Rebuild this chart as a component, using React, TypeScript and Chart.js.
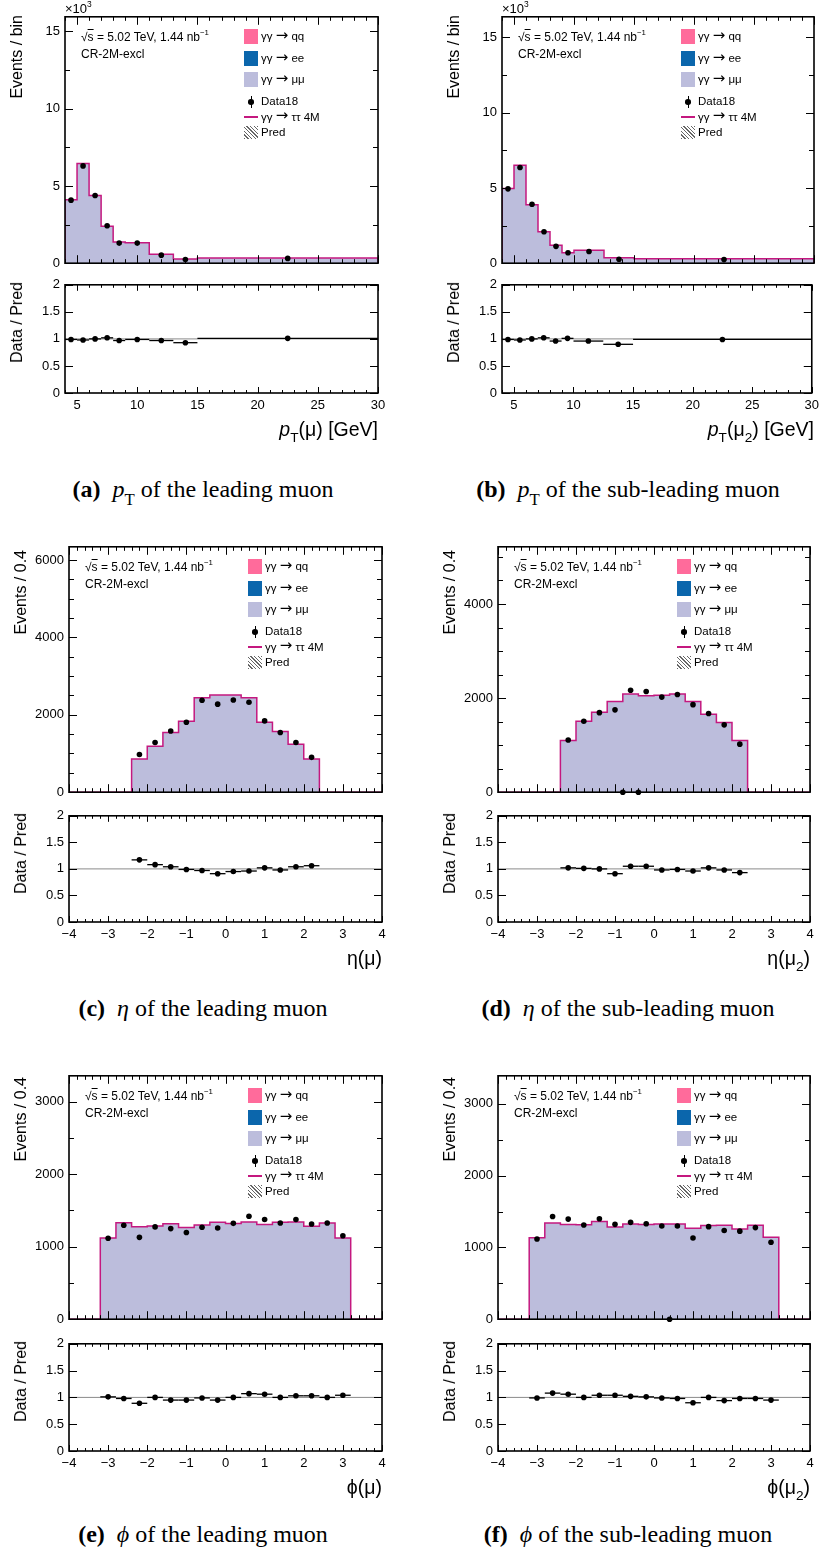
import React, { useEffect, useRef } from "react";
import { Chart, registerables } from "chart.js";

Chart.register(...registerables);

const SANS = "'Liberation Sans', Arial, Helvetica, sans-serif";
const SERIF = "'Liberation Serif', 'Times New Roman', serif";

const COLOR_QQ = "#ff6b9b";
const COLOR_EE = "#0b66ac";
const COLOR_MUMU = "#bcbddc";
const COLOR_TAUTAU = "#c4187f";
const COLOR_UNITY = "#8a8a8a";

// Leading-muon pT: events per bin, in units of 10^3
const ptLeadEdges = [4, 5, 6, 7, 8, 9, 11, 13, 15, 30];
const ptLeadMuMu = [4.1, 6.45, 4.38, 2.39, 1.37, 1.32, 0.58, 0.27, 0.33];
const ptLeadData = [4.08, 6.3, 4.38, 2.42, 1.3, 1.3, 0.52, 0.24, 0.31];
const ptLeadRatio = [0.99, 0.98, 1.0, 1.02, 0.97, 0.99, 0.97, 0.93, 1.01];

// Sub-leading-muon pT: events per bin, in units of 10^3
const ptSubEdges = [4, 5, 6, 7, 8, 9, 10, 12.5, 15, 30];
const ptSubMuMu = [4.96, 6.51, 3.88, 2.09, 1.19, 0.69, 0.86, 0.37, 0.3];
const ptSubData = [4.94, 6.36, 3.92, 2.09, 1.12, 0.69, 0.78, 0.26, 0.24];
const ptSubRatio = [0.99, 0.98, 1.0, 1.02, 0.96, 1.01, 0.96, 0.9, 0.99];

// Pseudorapidity, 0.4-wide bins
const etaEdges = [-2.4, -2.0, -1.6, -1.2, -0.8, -0.4, 0, 0.4, 0.8, 1.2, 1.6, 2.0, 2.4];
const etaLeadMuMu = [860, 1190, 1540, 1830, 2440, 2510, 2510, 2440, 1810, 1570, 1240, 860];
const etaLeadData = [975, 1283, 1583, 1808, 2375, 2275, 2383, 2325, 1842, 1542, 1283, 900];
const etaLeadRatio = [1.17, 1.08, 1.04, 0.99, 0.97, 0.91, 0.95, 0.96, 1.02, 0.98, 1.04, 1.06];

const etaSubMuMu = [1100, 1510, 1700, 1925, 2085, 2050, 2060, 2085, 1930, 1655, 1480, 1100];
const etaSubData = [1110, 1507, 1690, 1750, 2167, 2139, 2021, 2076, 1861, 1674, 1431, 1021];
const etaSubRatio = [1.02, 1.01, 1.0, 0.91, 1.05, 1.05, 0.98, 0.99, 0.96, 1.02, 0.98, 0.93];
const etaSubEmptyX = [-0.8, -0.4];

// Azimuth, 0.4-wide bins
const phiEdges = [-3.2, -2.8, -2.4, -2.0, -1.6, -1.2, -0.8, -0.4, 0, 0.4, 0.8, 1.2, 1.6, 2.0, 2.4, 2.8, 3.2];
const phiLeadMuMu = [1120, 1330, 1275, 1285, 1315, 1265, 1300, 1335, 1320, 1340, 1305, 1335, 1340, 1280, 1325, 1120];
const phiLeadData = [1115, 1294, 1128, 1272, 1249, 1196, 1267, 1258, 1321, 1420, 1375, 1326, 1375, 1312, 1326, 1151];
const phiLeadRatio = [1.01, 0.98, 0.89, 1.0, 0.95, 0.95, 0.99, 0.95, 1.0, 1.07, 1.06, 1.0, 1.03, 1.03, 1.0, 1.04];

const phiSubMuMu = [1135, 1340, 1320, 1315, 1360, 1285, 1325, 1320, 1325, 1325, 1265, 1305, 1310, 1255, 1310, 1140];
const phiSubData = [1116, 1431, 1394, 1312, 1399, 1321, 1349, 1330, 1298, 1298, 1130, 1289, 1235, 1226, 1276, 1071];
const phiSubRatio = [0.99, 1.08, 1.06, 1.0, 1.04, 1.04, 1.02, 1.01, 0.99, 0.98, 0.9, 1.0, 0.94, 0.98, 0.98, 0.95];
const phiSubEmptyX = [0.4];

// Axis tick labels
const ptYTicks = [0, 5, 10, 15];
const ptXTicks = [5, 10, 15, 20, 25, 30];
const etaLeadYTicks = [0, 2000, 4000, 6000];
const etaSubYTicks = [0, 2000, 4000];
const phiYTicks = [0, 1000, 2000, 3000];
const angleXTicks = [-4, -3, -2, -1, 0, 1, 2, 3, 4];
const ratioYTicks = [0, 0.5, 1, 1.5, 2];

const ROWS = [
  { mainT: 14, mainB: 266, ratT: 282, ratB: 393, yTitleTop: 15, capBase: 498 },
  { mainT: 544, mainB: 795, ratT: 813, ratB: 922, yTitleTop: 550, capBase: 1017 },
  { mainT: 1073, mainB: 1322, ratT: 1341, ratB: 1451, yTitleTop: 1077, capBase: 1543 },
];

const PAD_TOP = 10;
const MAIN_BOTTOM = 10;
const RATIO_BOTTOM = 28;

const Sub = ({ children }: any) => (
  <span style={{ position: "relative", top: "0.45em", fontSize: "0.7em" }}>{children}</span>
);
const Sup = ({ children }: any) => (
  <span style={{ position: "relative", top: "-0.7em", fontSize: "0.65em" }}>{children}</span>
);
const Arrow = () => (
  <span style={{ fontFamily: "'DejaVu Sans', sans-serif", fontSize: "1.3em", lineHeight: 0, position: "relative", top: "-0.03em" }}>
    →
  </span>
);

const PANELS: any[] = [
  {
    key: "a", row: 0, col: 0, frameL: 65, frameR: 378,
    edges: ptLeadEdges, mumu: ptLeadMuMu, data: ptLeadData, ratio: ptLeadRatio, empty: [],
    xMin: 4, xMax: 30, yMax: 15.95, yTicks: ptYTicks, yMinor: 2.5, xTicks: ptXTicks, xMinor: 1,
    thousands: true, yTitle: "Events / bin",
    xTitle: <><i>p</i><Sub>T</Sub>(μ) [GeV]</>,
    caption: <><b>(a)</b>{"\u2002"}<i>p</i><Sub>T</Sub> of the leading muon</>,
  },
  {
    key: "b", row: 0, col: 1, frameL: 502, frameR: 814,
    edges: ptSubEdges, mumu: ptSubMuMu, data: ptSubData, ratio: ptSubRatio, empty: [],
    xMin: 4, xMax: 30, yMax: 16.37, yTicks: ptYTicks, yMinor: 2.5, xTicks: ptXTicks, xMinor: 1,
    thousands: true, yTitle: "Events / bin",
    xTitle: <><i>p</i><Sub>T</Sub>(μ<Sub>2</Sub>) [GeV]</>,
    caption: <><b>(b)</b>{"\u2002"}<i>p</i><Sub>T</Sub> of the sub-leading muon</>,
  },
  {
    key: "c", row: 1, col: 0, frameL: 69, frameR: 382,
    edges: etaEdges, mumu: etaLeadMuMu, data: etaLeadData, ratio: etaLeadRatio, empty: [],
    xMin: -4, xMax: 4, yMax: 6340, yTicks: etaLeadYTicks, yMinor: 500, xTicks: angleXTicks, xMinor: 0.2,
    thousands: false, yTitle: "Events / 0.4",
    xTitle: <>η(μ)</>,
    caption: <><b>(c)</b>{"\u2002"}<i>η</i> of the leading muon</>,
  },
  {
    key: "d", row: 1, col: 1, frameL: 498, frameR: 810,
    edges: etaEdges, mumu: etaSubMuMu, data: etaSubData, ratio: etaSubRatio, empty: etaSubEmptyX,
    xMin: -4, xMax: 4, yMax: 5215, yTicks: etaSubYTicks, yMinor: 500, xTicks: angleXTicks, xMinor: 0.2,
    thousands: false, yTitle: "Events / 0.4",
    xTitle: <>η(μ<Sub>2</Sub>)</>,
    caption: <><b>(d)</b>{"\u2002"}<i>η</i> of the sub-leading muon</>,
  },
  {
    key: "e", row: 2, col: 0, frameL: 69, frameR: 382,
    edges: phiEdges, mumu: phiLeadMuMu, data: phiLeadData, ratio: phiLeadRatio, empty: [],
    xMin: -4, xMax: 4, yMax: 3355, yTicks: phiYTicks, yMinor: 500, xTicks: angleXTicks, xMinor: 0.2,
    thousands: false, yTitle: "Events / 0.4",
    xTitle: <>ϕ(μ)</>,
    caption: <><b>(e)</b>{"\u2002"}<i>ϕ</i> of the leading muon</>,
  },
  {
    key: "f", row: 2, col: 1, frameL: 498, frameR: 810,
    edges: phiEdges, mumu: phiSubMuMu, data: phiSubData, ratio: phiSubRatio, empty: phiSubEmptyX,
    xMin: -4, xMax: 4, yMax: 3390, yTicks: phiYTicks, yMinor: 500, xTicks: angleXTicks, xMinor: 0.2,
    thousands: false, yTitle: "Events / 0.4",
    xTitle: <>ϕ(μ<Sub>2</Sub>)</>,
    caption: <><b>(f)</b>{"\u2002"}<i>ϕ</i> of the sub-leading muon</>,
  },
];

function fmtTick(v: number) {
  return v < 0 ? "\u2212" + String(Math.abs(v)) : String(v);
}

function tickList(min: number, max: number, step: number) {
  const out: number[] = [];
  const start = Math.ceil(min / step - 1e-9);
  for (let k = start; k * step <= max + 1e-9; k++) out.push(+(k * step).toFixed(6));
  return out;
}

const isMajor = (v: number, majors: number[]) => majors.some((m) => Math.abs(m - v) < 1e-6);

// Histogram outline as step points along bin edges, dropping to zero outside the binned range
function stepPoints(edges: number[], vals: number[], xMin: number, xMax: number) {
  const pts = [{ x: xMin, y: 0 }];
  vals.forEach((v, i) => pts.push({ x: edges[i], y: v }));
  pts.push({ x: edges[edges.length - 1], y: 0 });
  pts.push({ x: xMax, y: 0 });
  return pts;
}

const centers = (edges: number[]) => edges.slice(0, -1).map((e, i) => (e + edges[i + 1]) / 2);

// Frame with inward ticks on all four sides, plus horizontal bin-width bars for ratio points
const framePlugin = {
  id: "rootFrame",
  afterDatasetsDraw(chart: any, _a: any, o: any) {
    if (!o || !o.bars) return;
    const { ctx } = chart;
    const xs = chart.scales.x;
    const ys = chart.scales.y;
    ctx.save();
    ctx.strokeStyle = "#000";
    ctx.lineWidth = 1.3;
    const { edges, vals } = o.bars;
    vals.forEach((v: number, i: number) => {
      const y = ys.getPixelForValue(v);
      ctx.beginPath();
      ctx.moveTo(xs.getPixelForValue(edges[i]), y);
      ctx.lineTo(xs.getPixelForValue(edges[i + 1]), y);
      ctx.stroke();
    });
    ctx.restore();
  },
  afterDraw(chart: any, _a: any, o: any) {
    const { ctx, chartArea: a } = chart;
    const xs = chart.scales.x;
    const ys = chart.scales.y;
    ctx.save();
    ctx.strokeStyle = "#000";
    ctx.lineWidth = 1;
    const seg = (x1: number, y1: number, x2: number, y2: number) => {
      ctx.beginPath();
      ctx.moveTo(x1, y1);
      ctx.lineTo(x2, y2);
      ctx.stroke();
    };
    for (const v of tickList(xs.min, xs.max, o.xMinor)) {
      const len = isMajor(v, o.xMajor) ? o.xLen[0] : o.xLen[1];
      const px = Math.round(xs.getPixelForValue(v)) + 0.5;
      seg(px, a.bottom, px, a.bottom - len);
      seg(px, a.top, px, a.top + len);
    }
    for (const v of tickList(ys.min, ys.max, o.yMinor)) {
      const len = isMajor(v, o.yMajor) ? o.yLen[0] : o.yLen[1];
      const py = Math.round(ys.getPixelForValue(v)) + 0.5;
      seg(a.left, py, a.left + len, py);
      seg(a.right, py, a.right - len, py);
    }
    ctx.lineWidth = 1.6;
    ctx.strokeRect(a.left, a.top, a.right - a.left, a.bottom - a.top);
    ctx.restore();
  },
};

function baseOptions(p: any, yMin: number, yMax: number, yTicks: number[], bottom: number, showX: boolean, frame: any) {
  const colX = p.col * 412;
  return {
    responsive: false,
    maintainAspectRatio: false,
    animation: false,
    devicePixelRatio: 1,
    events: [],
    layout: { padding: { left: 0, top: PAD_TOP, right: colX + 412 - p.frameR, bottom: 0 } },
    plugins: { legend: { display: false }, tooltip: { enabled: false }, rootFrame: frame },
    scales: {
      x: {
        type: "linear",
        min: p.xMin,
        max: p.xMax,
        grid: { display: false, drawTicks: false },
        border: { display: false },
        ticks: {
          display: showX,
          font: { family: SANS, size: 13 },
          color: "#000",
          padding: 5,
          autoSkip: false,
          maxRotation: 0,
          minRotation: 0,
          callback: (v: number) => fmtTick(v),
        },
        afterBuildTicks: (s: any) => {
          s.ticks = p.xTicks.map((v: number) => ({ value: v }));
        },
        afterFit: (s: any) => {
          s.height = bottom;
        },
      },
      y: {
        type: "linear",
        min: yMin,
        max: yMax,
        grid: { display: false, drawTicks: false },
        border: { display: false },
        ticks: {
          font: { family: SANS, size: 13 },
          color: "#000",
          padding: 5,
          autoSkip: false,
          callback: (v: number) => fmtTick(v),
        },
        afterBuildTicks: (s: any) => {
          s.ticks = yTicks.map((v) => ({ value: v }));
        },
        afterFit: (s: any) => {
          s.width = p.frameL - colX;
        },
      },
    },
  };
}

function mainConfig(p: any) {
  const hist = stepPoints(p.edges, p.mumu, p.xMin, p.xMax);
  const pts = centers(p.edges)
    .map((c, i) => ({ x: c, y: p.data[i] }))
    .concat(p.empty.map((x: number) => ({ x, y: 0 })));
  return {
    type: "line",
    data: {
      datasets: [
        {
          label: "Data18",
          data: pts,
          showLine: false,
          pointRadius: 2.8,
          pointHoverRadius: 0,
          pointBackgroundColor: "#000",
          pointBorderWidth: 0,
          clip: false,
          order: 0,
        },
        {
          label: "γγ → ττ 4M",
          data: hist,
          stepped: true,
          borderColor: COLOR_TAUTAU,
          borderWidth: 1.5,
          pointRadius: 0,
          pointHoverRadius: 0,
          fill: false,
          order: 1,
        },
        {
          label: "γγ → μμ",
          data: hist,
          stepped: true,
          borderColor: "rgba(0,0,0,0)",
          borderWidth: 0,
          backgroundColor: COLOR_MUMU,
          fill: "origin",
          pointRadius: 0,
          pointHoverRadius: 0,
          order: 2,
        },
      ],
    },
    options: baseOptions(p, 0, p.yMax, p.yTicks, MAIN_BOTTOM, false, {
      xMajor: p.xTicks,
      xMinor: p.xMinor,
      yMajor: p.yTicks,
      yMinor: p.yMinor,
      xLen: [8, 4],
      yLen: [8, 5],
    }),
    plugins: [framePlugin],
  };
}

function ratioConfig(p: any) {
  const pts = centers(p.edges).map((c, i) => ({ x: c, y: p.ratio[i] }));
  return {
    type: "line",
    data: {
      datasets: [
        {
          label: "Data / Pred",
          data: pts,
          showLine: false,
          pointRadius: 2.8,
          pointHoverRadius: 0,
          pointBackgroundColor: "#000",
          pointBorderWidth: 0,
          order: 0,
        },
        {
          label: "unity",
          data: [
            { x: p.xMin, y: 1 },
            { x: p.xMax, y: 1 },
          ],
          borderColor: COLOR_UNITY,
          borderWidth: 1,
          pointRadius: 0,
          pointHoverRadius: 0,
          fill: false,
          order: 1,
        },
      ],
    },
    options: baseOptions(p, 0, 2, ratioYTicks, RATIO_BOTTOM, true, {
      xMajor: p.xTicks,
      xMinor: p.xMinor,
      yMajor: ratioYTicks,
      yMinor: 0.5,
      xLen: [6, 3],
      yLen: [8, 8],
      bars: { edges: p.edges, vals: p.ratio },
    }),
    plugins: [framePlugin],
  };
}

function ChartCanvas({ left, top, width, height, make }: any) {
  const ref = useRef<HTMLCanvasElement | null>(null);
  useEffect(() => {
    if (!ref.current) return;
    const chart = new Chart(ref.current, make());
    return () => chart.destroy();
  }, []);
  return (
    <canvas
      ref={ref}
      width={width}
      height={height}
      style={{ position: "absolute", left, top, width, height }}
    />
  );
}

// Text placed by its baseline
function Txt({ x, y, size, align = "left", family = SANS, children, style }: any) {
  const lh = size * 1.2;
  const tx = align === "right" ? "translateX(-100%)" : align === "center" ? "translateX(-50%)" : undefined;
  return (
    <div
      style={{
        position: "absolute",
        left: x,
        top: y - 0.9465 * size,
        fontFamily: family,
        fontSize: size,
        lineHeight: `${lh}px`,
        whiteSpace: "nowrap",
        color: "#000",
        transform: tx,
        ...style,
      }}
    >
      {children}
    </div>
  );
}

// Rotated axis title, reading upwards, its end at `top`
function VTitle({ cx, top, size, children }: any) {
  const lh = size * 1.2;
  return (
    <div
      style={{
        position: "absolute",
        left: cx - lh / 2,
        top,
        fontFamily: SANS,
        fontSize: size,
        lineHeight: `${lh}px`,
        whiteSpace: "nowrap",
        transformOrigin: "0 0",
        transform: "rotate(-90deg) translateX(-100%)",
      }}
    >
      {children}
    </div>
  );
}

function Legend({ fl, ft }: any) {
  const sx = fl + 179;
  const tx = fl + 196;
  const box = (y: number, color: string) => (
    <div style={{ position: "absolute", left: sx, top: y, width: 14, height: 15, background: color }} />
  );
  return (
    <>
      {box(ft + 15, COLOR_QQ)}
      <Txt x={tx} y={ft + 27} size={11.5}>γγ <Arrow /> qq</Txt>
      {box(ft + 37, COLOR_EE)}
      <Txt x={tx} y={ft + 49} size={11.5}>γγ <Arrow /> ee</Txt>
      {box(ft + 58, COLOR_MUMU)}
      <Txt x={tx} y={ft + 70} size={11.5}>γγ <Arrow /> μμ</Txt>
      <div style={{ position: "absolute", left: sx + 6.5, top: ft + 82, width: 1, height: 12, background: "#000" }} />
      <div
        style={{
          position: "absolute",
          left: sx + 4.2,
          top: ft + 85.3,
          width: 5.6,
          height: 5.6,
          borderRadius: "50%",
          background: "#000",
        }}
      />
      <Txt x={tx} y={ft + 92} size={11.5}>Data18</Txt>
      <div style={{ position: "absolute", left: sx, top: ft + 102, width: 14, height: 2, background: COLOR_TAUTAU }} />
      <Txt x={tx} y={ft + 107.5} size={11.5}>γγ <Arrow /> ττ 4M</Txt>
      <div
        style={{
          position: "absolute",
          left: sx,
          top: ft + 112,
          width: 14,
          height: 13,
          background: "repeating-linear-gradient(45deg, #666 0px, #666 1px, rgba(255,255,255,0) 1px, rgba(255,255,255,0) 2.6px)",
        }}
      />
      <Txt x={tx} y={ft + 122.5} size={11.5}>Pred</Txt>
    </>
  );
}

function Panel({ p }: any) {
  const r = ROWS[p.row];
  const colX = p.col * 412;
  const mainTop = r.mainT - PAD_TOP;
  const mainH = r.mainB - mainTop + MAIN_BOTTOM;
  const ratTop = r.ratT - PAD_TOP;
  const ratH = r.ratB - ratTop + RATIO_BOTTOM;
  const capX = p.col === 0 ? 203 : 628;
  return (
    <>
      <ChartCanvas left={colX} top={mainTop} width={412} height={mainH} make={() => mainConfig(p)} />
      <ChartCanvas left={colX} top={ratTop} width={412} height={ratH} make={() => ratioConfig(p)} />
      {p.thousands && (
        <Txt x={p.frameL} y={r.mainT - 1} size={13}>
          ×10<Sup>3</Sup>
        </Txt>
      )}
      <Txt x={p.frameL + 16} y={r.mainT + 27} size={12}>
        √<span style={{ textDecoration: "overline" }}>s</span> = 5.02 TeV, 1.44 nb<Sup>−1</Sup>
      </Txt>
      <Txt x={p.frameL + 16} y={r.mainT + 44} size={12}>
        CR-2M-excl
      </Txt>
      <Legend fl={p.frameL} ft={r.mainT} />
      <VTitle cx={p.frameL - 48} top={r.yTitleTop} size={16}>
        {p.yTitle}
      </VTitle>
      <VTitle cx={p.frameL - 48} top={r.ratT} size={16}>
        Data / Pred
      </VTitle>
      <Txt x={p.frameR} y={r.ratB + 43} size={19.5} align="right">
        {p.xTitle}
      </Txt>
      <Txt x={capX} y={r.capBase} size={24} family={SERIF} align="center">
        {p.caption}
      </Txt>
    </>
  );
}

export default function App() {
  return (
    <div
      style={{
        position: "absolute",
        left: 0,
        top: 0,
        width: 824,
        height: 1558,
        background: "#fff",
        overflow: "hidden",
      }}
    >
      {PANELS.map((p) => (
        <Panel key={p.key} p={p} />
      ))}
    </div>
  );
}
